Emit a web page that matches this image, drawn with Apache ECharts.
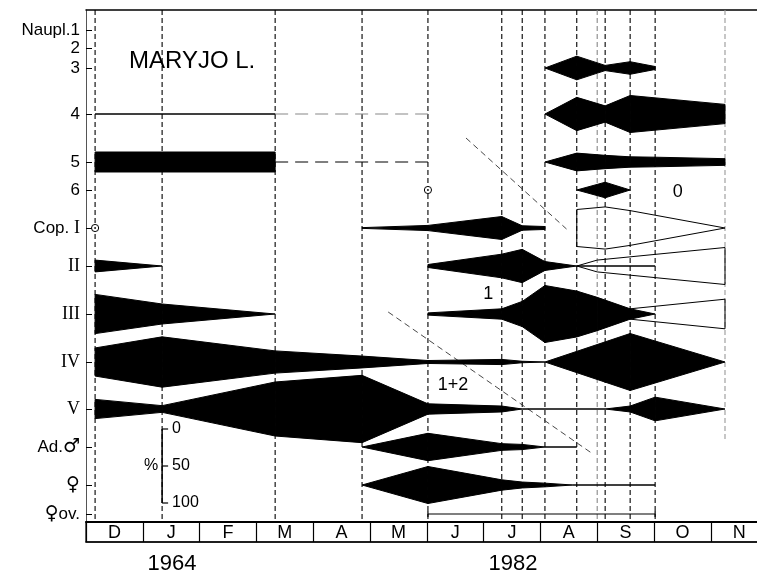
<!DOCTYPE html>
<html><head><meta charset="utf-8">
<script src="https://cdn.jsdelivr.net/npm/echarts@6/dist/echarts.min.js"></script>
<style>html,body{margin:0;padding:0;background:#fff}#c{width:757px;height:576px}</style>
</head><body><div id="c"></div>
<script>
// ---------- DATA ----------
// x: months counted from the start of the "D" column; y rows: plot units (inverse axis)
const months = ['D','J','F','M','A','M','J','J','A','S','O','N'];
const years = ['1964','1982'];
const stageLabels = ['Naupl.1','2','3','4','5','6','Cop. I','II','III','IV','V','Ad.♂','♀','♀ov.'];
const stagePos = [20,38,58,104,152,180,218,256,304,352,399,437,475,504];
const sampleDates = [0.16,1.34,3.33,4.86,6.02,7.32,7.68,8.08,8.64,9.00,9.14,9.58,10.02,11.25];
const scaleTicks = [0,50,100];

// kites: [date (months), % of sample]
const n3_1982 = [[8.08,0],[8.64,32],[9.14,7],[9.58,17],[10.02,4]];
const n4_1964 = [[0.16,0],[3.33,0]];
const n4_1982 = [[8.08,0],[8.64,45],[9.14,22],[9.58,50],[11.25,26]];
const n5_1964 = [[0.16,27],[3.33,27]];
const n5_1982 = [[8.08,0],[8.64,24],[9.14,18],[9.58,14],[10.02,13],[11.25,9]];
const n6_1982 = [[8.64,0],[9.14,21],[9.58,0]];
const c1_1982 = [[4.86,1],[6.02,7],[7.32,31],[7.68,6],[8.08,4]];
const c1_open = [[8.64,50],[9.14,57],[9.58,47],[11.25,0]];
const c2_1964 = [[0.16,16],[1.34,0]];
const c2_1982 = [[6.02,4],[7.32,32],[7.68,45],[8.08,12],[8.64,0],[10.02,0]];
const c2_open = [[8.64,0],[9.00,16],[11.25,50]];
const c3_1964 = [[0.16,53],[1.34,27],[3.33,0]];
const c3_1982 = [[6.02,3],[7.32,14],[7.68,34],[8.08,77],[8.64,62],[9.00,45],[9.58,14],[10.02,0]];
const c3_open = [[9.58,14],[11.25,40]];
const c4_all = [[0.16,38],[1.34,68],[3.33,30],[4.86,16],[6.02,4],[7.32,7],[7.68,2],[8.08,0],[9.58,77],[11.25,0]];
const c5_all = [[0.16,26],[1.34,9],[3.33,73],[4.86,91],[6.02,14],[7.32,8],[7.68,0],[9.14,0],[9.58,8],[10.02,32],[11.25,0]];
const adm_1982 = [[4.86,0],[6.02,37],[7.32,9],[7.68,7],[8.08,0],[8.64,0]];
const adf_1982 = [[4.86,0],[6.02,50],[7.32,14],[7.68,8],[8.08,5],[8.57,0],[10.02,0]];
const adov_range = [[6.02,504],[10.02,504]];

// linking lines between years and dashed diagonals
const link4 = [[3.33,104],[6.02,104]];
const link5 = [[3.33,152],[6.02,152]];
const diag1 = [[6.69,128],[8.46,219]];
const diag2 = [[5.32,302],[8.90,443]];
const circles = [[0.16,218],[6.02,180]];
const notes = [['1',7.08,284],['1+2',6.46,375],['0',10.42,182]];

// ---------- CHART ----------
const KITE = 0.74; // plot units per % of full kite width
const SANS = 'Liberation Sans, Arial, Helvetica, sans-serif';
const SERIF = 'Liberation Serif, Times New Roman, serif';
const GLYPH = 'DejaVu Sans, Noto Sans, sans-serif';
const chart = echarts.init(document.getElementById('c'), null, {renderer:'canvas'});

function kite(name, pts, row, open) {
  const c = stagePos[row];
  const segs = pts.slice(1).map((p,i)=>[pts[i][0], pts[i][1], p[0], p[1]]);
  return {
    type:'custom', name, xAxisIndex:0, yAxisIndex:0, z: open ? 6 : 5, silent:true, clip:false,
    data: segs,
    renderItem(params, api) {
      const x0=api.value(0), p0=api.value(1), x1=api.value(2), p1=api.value(3);
      const h0=p0*KITE/2, h1=p1*KITE/2;
      const a=api.coord([x0,c-h0]), b=api.coord([x1,c-h1]), d=api.coord([x1,c+h1]), e=api.coord([x0,c+h0]);
      if (!open) return {type:'polygon', shape:{points:[a,b,d,e]}, style:{fill:'#000', stroke:'#000', lineWidth:1}};
      const st = {stroke:'#000', lineWidth:1, fill:null};
      const ch = [
        {type:'line', shape:{x1:a[0],y1:a[1],x2:b[0],y2:b[1]}, style:st},
        {type:'line', shape:{x1:e[0],y1:e[1],x2:d[0],y2:d[1]}, style:st}
      ];
      if (params.dataIndex===0 && p0>0) ch.push({type:'line', shape:{x1:a[0],y1:a[1],x2:e[0],y2:e[1]}, style:st});
      if (params.dataIndex===segs.length-1 && p1>0) ch.push({type:'line', shape:{x1:b[0],y1:b[1],x2:d[0],y2:d[1]}, style:st});
      return {type:'group', children:ch};
    }
  };
}
function line(name, pts, color, dash, width) {
  return {type:'line', name, xAxisIndex:0, yAxisIndex:0, data:pts, symbol:'none', silent:true, z:4,
    lineStyle:{color, width: width||1, type: dash||'solid'}, animation:false};
}

const faint = {9:'#888', 13:'#999'};
const series = [
  { // sampling dates
    type:'custom', name:'dates', xAxisIndex:0, yAxisIndex:0, z:2, silent:true,
    data: sampleDates.map(d=>[d]),
    renderItem(params, api) {
      const x = api.value(0);
      const end = params.dataIndex===13 ? 430 : 512;
      const p0 = api.coord([x,0]), p1 = api.coord([x,end]);
      return {type:'line', shape:{x1:p0[0],y1:p0[1],x2:p1[0],y2:p1[1]},
        style:{stroke: faint[params.dataIndex]||'#000', lineWidth:1.1, lineDash:[5,3]}};
    }
  },
  kite('N3 1982', n3_1982, 2),
  kite('N4 1964', n4_1964, 3),
  kite('N4 1982', n4_1982, 3),
  kite('N5 1964', n5_1964, 4),
  kite('N5 1982', n5_1982, 4),
  kite('N6 1982', n6_1982, 5),
  kite('CI 1982', c1_1982, 6),
  kite('CI open', c1_open, 6, true),
  kite('CII 1964', c2_1964, 7),
  kite('CII 1982', c2_1982, 7),
  kite('CII open', c2_open, 7, true),
  kite('CIII 1964', c3_1964, 8),
  kite('CIII 1982', c3_1982, 8),
  kite('CIII open', c3_open, 8, true),
  kite('CIV', c4_all, 9),
  kite('CV', c5_all, 10),
  kite('Ad male', adm_1982, 11),
  kite('Ad female', adf_1982, 12),
  Object.assign(line('ov', adov_range, '#000', 'solid', 1.2), {symbol:'rect', symbolSize:[1.2,6], showSymbol:true, itemStyle:{color:'#000'}}),
  line('link4', link4, '#888', [13,7], 1.2),
  line('link5', link5, '#000', [13,7], 1.2),
  line('diag1', diag1, '#333', [6,4], 0.9),
  line('diag2', diag2, '#333', [6,4], 0.9),
  { // circled points
    type:'custom', name:'circles', xAxisIndex:0, yAxisIndex:0, z:7, silent:true, data:circles,
    renderItem(params, api) {
      const p = api.coord([api.value(0), api.value(1)]);
      return {type:'group', children:[
        {type:'circle', shape:{cx:p[0],cy:p[1],r:3.6}, style:{fill:'#fff', stroke:'#000', lineWidth:1}},
        {type:'circle', shape:{cx:p[0],cy:p[1],r:0.9}, style:{fill:'#000'}}
      ]};
    }
  },
  { // text notes
    type:'custom', name:'notes', xAxisIndex:0, yAxisIndex:0, z:7, silent:true,
    data: notes.map(n=>[n[1],n[2],n[0]]),
    renderItem(params, api) {
      const p = api.coord([api.value(0), api.value(1)]);
      return {type:'text', x:p[0], y:p[1], style:{text: notes[params.dataIndex][0], fill:'#000',
        font:'18px '+SANS, align:'center', verticalAlign:'middle'}};
    }
  },
  { // % scale bar
    type:'custom', name:'scale', xAxisIndex:0, yAxisIndex:0, z:7, silent:true,
    data: [[1.34, 419]],
    renderItem(params, api) {
      const x = api.value(0), y0 = api.value(1);
      const top = api.coord([x,y0]), bot = api.coord([x,y0+100*KITE]);
      const ch = [{type:'line', shape:{x1:top[0],y1:top[1],x2:bot[0],y2:bot[1]}, style:{stroke:'#000', lineWidth:1.5}}];
      scaleTicks.forEach(t=>{
        const p = api.coord([x, y0+t*KITE]);
        ch.push({type:'line', shape:{x1:p[0],y1:p[1],x2:p[0]+6,y2:p[1]}, style:{stroke:'#000', lineWidth:1.2}});
        ch.push({type:'text', x:p[0]+10, y:p[1], style:{text:String(t), fill:'#000', font:'16px '+SANS, align:'left', verticalAlign:'middle'}});
      });
      const m = api.coord([x, y0+50*KITE]);
      ch.push({type:'text', x:m[0]-11, y:m[1], style:{text:'%', fill:'#000', font:'16px '+SANS, align:'center', verticalAlign:'middle'}});
      return {type:'group', children:ch};
    }
  },
  {type:'line', xAxisIndex:1, yAxisIndex:1, data:[], silent:true}
];

function stageFmt(v) {
  const i = stagePos.indexOf(v);
  if (i < 0) return '';
  const s = stageLabels[i];
  if (s === 'Cop. I') return '{s|Cop. }{r|I}';
  if (/^[IV]+$/.test(s)) return '{r|' + s + '}';
  return s.split(/([♂♀])/).filter(Boolean)
    .map(part => /[♂♀]/.test(part) ? '{g|' + part + '}' : '{s|' + part + '}').join('');
}

const option = {
  animation:false,
  backgroundColor:'#fff',
  grid:[
    {left:86, top:10, width:671, height:512, outerBoundsMode:'none', containLabel:false},
    {left:86, top:522, width:681.6, height:20, show:true, borderColor:'#000', borderWidth:1.2, outerBoundsMode:'none', containLabel:false}
  ],
  xAxis:[
    {type:'value', gridIndex:0, position:'top', min:0, max:671/56.8,
      axisLine:{show:true, lineStyle:{color:'#000', width:1.5}}, axisTick:{show:false}, axisLabel:{show:false}, splitLine:{show:false}},
    {type:'category', gridIndex:1, data:months, boundaryGap:true,
      axisLine:{show:true, lineStyle:{color:'#000', width:1.5}}, axisTick:{show:false},
      splitLine:{show:true, interval:0, lineStyle:{color:'#000', width:1.2}},
      axisLabel:{inside:true, margin:9, verticalAlign:'middle', interval:0, color:'#000', fontSize:18, fontFamily:SANS}},
    {type:'value', gridIndex:0, position:'bottom', min:0, max:671/56.8,
      axisLine:{show:true, lineStyle:{color:'#000', width:2}}, axisTick:{show:false}, axisLabel:{show:false}, splitLine:{show:false}}
  ],
  yAxis:[
    {type:'value', gridIndex:0, inverse:true, min:0, max:512,
      axisLine:{show:true, lineStyle:{color:'#555', width:1}},
      axisTick:{show:true, inside:true, length:6, customValues:stagePos, lineStyle:{color:'#000', width:1}},
      axisLabel:{show:true, customValues:stagePos, margin:6, formatter:stageFmt, color:'#000',
        rich:{s:{fontSize:17, fontFamily:SANS, color:'#000'},
              r:{fontSize:18, fontFamily:SERIF, color:'#000'},
              g:{fontSize:19, fontFamily:GLYPH, color:'#000'}}},
      splitLine:{show:false}},
    {type:'value', gridIndex:1, min:0, max:1, axisLine:{show:false}, axisTick:{show:false}, axisLabel:{show:false}, splitLine:{show:false}}
  ],
  graphic:[
    {type:'text', left:129, top:49, style:{text:'MARYJO L.', font:'24px '+SANS, fill:'#000'}},
    {type:'text', x:172, y:564, style:{text:years[0], font:'22px '+SANS, fill:'#000', align:'center', verticalAlign:'middle'}},
    {type:'text', x:513, y:564, style:{text:years[1], font:'22px '+SANS, fill:'#000', align:'center', verticalAlign:'middle'}}
  ],
  series
};
chart.setOption(option);
</script>
</body></html>
